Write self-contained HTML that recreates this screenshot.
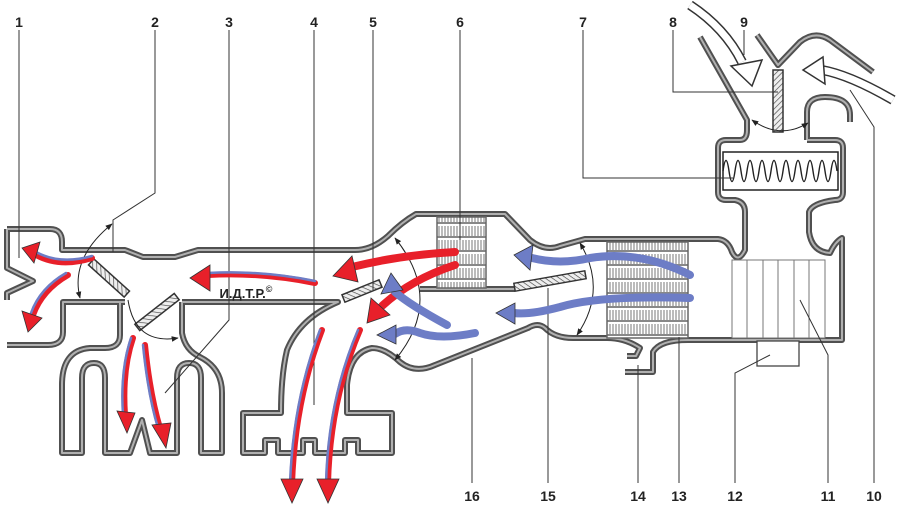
<!DOCTYPE html>
<html><head><meta charset="utf-8"><style>
html,body{margin:0;padding:0;background:#fff;}
svg{display:block;}
text{font-family:"Liberation Sans",sans-serif;font-size:14px;font-weight:bold;fill:#222;text-anchor:middle;}
</style></head><body>
<svg width="900" height="512" viewBox="0 0 900 512" xmlns="http://www.w3.org/2000/svg">
<defs>
<pattern id="hatch" width="4" height="4" patternUnits="userSpaceOnUse" patternTransform="rotate(45)">
<rect width="4" height="4" fill="#eee"/><line x1="0" y1="0" x2="0" y2="4" stroke="#444" stroke-width="1.3"/></pattern>
<pattern id="core" width="3" height="14" patternUnits="userSpaceOnUse">
<rect width="3" height="14" fill="#fff"/><line x1="1" y1="2" x2="1" y2="12" stroke="#777" stroke-width="1"/><rect x="0" y="12" width="3" height="2" fill="#888"/></pattern>
<marker id="ah" viewBox="0 0 10 10" refX="9" refY="5" markerWidth="7" markerHeight="7" orient="auto-start-reverse"><path d="M0,1 L10,5 L0,9 Z" fill="#222"/></marker>
<g id="walls" fill="none" stroke-linejoin="round">
<path d="M7,229 H50 Q62,229 62,242 V250 H125 L143,257 H175 L198,250 H355 Q372,250 388,236 Q402,222 416,214 H505 L530,240 Q545,252 560,246 L585,239 H718 Q728,240 732,252 Q738,264 745,250 V212 Q745,202 735,200 H726 Q718,200 718,192 V148 Q718,140 726,140 H740 Q747,140 747,130 V120 L700,37"/>
<path d="M807,140 V112 Q807,97 825,97 Q850,97 850,115 V122"/>
<path d="M807,140 H835 Q843,140 843,148 V192 Q843,200 835,200 Q812,203 809,212 V232 Q812,252 830,253 Q835,242 842,238 V340 H688 Q660,340 653,352 V372 H625"/>
<path d="M573,338 H607 Q625,338 640,348 L636,356 H627"/>
<path d="M573,338 Q555,338 545,328 Q538,322 528,328 L435,365 Q415,374 400,362 Q385,348 372,348 Q350,352 347,385 V413 H392 V453 H358 V440 H345 V453 H315 V440 H303 V453 H278 V440 H265 V453 H243 V413 H281 Q281,375 287,350 Q300,318 338,302 H182"/>
<path d="M7,345 H48 Q63,345 63,332 V302 H125"/>
<path d="M182,302 V333 Q185,350 200,357 Q222,368 222,393 V453 H201 V378 Q201,363 189,363 Q177,363 177,378 V453 H150 L142,420 L130,453 H105 V378 Q105,363 94,363 Q82,363 82,378 V453 H62 V385 Q62,350 90,348 H105 Q120,348 120,335 V302"/>
<path d="M7,229 V268 L33,281 L7,293 V300"/>
<path d="M420,289 H515"/>
<path d="M757,35 L778,65 L800,42 Q815,30 830,40 L873,72"/>
</g>
</defs>
<use href="#walls" stroke="#505050" stroke-width="6"/>
<use href="#walls" stroke="#b0b0b0" stroke-width="2"/>

<rect x="437" y="217" width="49" height="71" fill="url(#core)" stroke="#666" stroke-width="1.5"/>
<rect x="607" y="242" width="81" height="96" fill="url(#core)" stroke="#666" stroke-width="1.5"/>
<g stroke="#777" stroke-width="1" fill="#fff">
<rect x="732" y="260" width="93" height="78"/>
<line x1="747" y1="260" x2="747" y2="338"/><line x1="763" y1="260" x2="763" y2="338"/>
<line x1="778" y1="260" x2="778" y2="338"/><line x1="794" y1="260" x2="794" y2="338"/>
<line x1="809" y1="260" x2="809" y2="338"/>
</g>
<rect x="757" y="341" width="42" height="25" fill="#fff" stroke="#444" stroke-width="1.3"/>
<rect x="723" y="152" width="115" height="38" fill="#fff" stroke="#222" stroke-width="1.5"/>
<path d="M723,171 Q726,150 729,171 T735,171 T741,171 T747,171 T753,171 T759,171 T765,171 T771,171 T777,171 T783,171 T789,171 T795,171 T801,171 T807,171 T813,171 T819,171 T825,171 T831,171 T837,171" fill="none" stroke="#222" stroke-width="1.4"/>

<g fill="url(#hatch)" stroke="#333" stroke-width="1.5">
<rect x="-4" y="-24" width="8" height="48" transform="translate(109,278) rotate(-48)"/>
<rect x="-4" y="-25" width="8" height="50" transform="translate(157,312) rotate(52)"/>
<rect x="-4" y="-20" width="8" height="40" transform="translate(362,291) rotate(68)"/>
<rect x="-4" y="-36" width="8" height="72" transform="translate(550,281) rotate(80)"/>
<rect x="773" y="70" width="10" height="62"/>
</g>

<g fill="none" stroke="#222" stroke-width="1" marker-start="url(#ah)" marker-end="url(#ah)">
<path d="M80,298 Q70,258 112,224"/>
<path d="M395,238 Q445,300 395,360"/>
<path d="M580,243 Q608,290 577,335"/>
<path d="M752,120 Q780,140 808,123"/>
</g>
<path d="M128,300 Q135,345 178,338" fill="none" stroke="#222" stroke-width="1" marker-end="url(#ah)"/>

<g stroke="#333" stroke-width="1" fill="none">
<path d="M19,30 V258"/>
<path d="M155,30 V193 L113,220 V252"/>
<path d="M229,30 V320 L165,393"/>
<path d="M314,30 V405"/>
<path d="M373,30 V290"/>
<path d="M460,30 V240"/>
<path d="M583,30 V178 H733"/>
<path d="M673,30 V92 H778"/>
<path d="M744,30 V55"/>
<path d="M874,483 V127 L850,90"/>
<path d="M828,483 V355 L800,300"/>
<path d="M735,483 V373 L770,355"/>
<path d="M679,483 V337"/>
<path d="M638,483 V365"/>
<path d="M548,483 V288"/>
<path d="M472,483 V358"/>
</g>

<g fill="none" stroke-linecap="round">
<g stroke="#e8202a" stroke-width="6">
<path d="M92,258 Q60,268 36,255"/><path d="M68,275 Q42,290 33,315"/>
<path d="M315,283 Q260,272 208,275"/>
<path d="M133,338 Q122,370 125,415"/><path d="M145,345 Q150,395 160,428"/>
<path d="M322,330 Q295,400 292,484"/><path d="M360,330 Q330,400 328,484"/>
<path d="M455,252 Q400,255 352,267" stroke-width="8"/><path d="M455,265 Q410,280 382,306" stroke-width="8"/>
</g>
<g stroke="#6d7dc6" stroke-width="2.5">
<path d="M92,256 Q60,265 36,252"/><path d="M66,273 Q40,288 31,313"/>
<path d="M315,281 Q260,270 208,273"/>
<path d="M131,338 Q120,370 123,415"/><path d="M143,345 Q148,395 158,428"/>
<path d="M320,330 Q293,400 290,484"/><path d="M358,330 Q328,400 326,484"/>
</g>
<g stroke="#6d7dc6" stroke-width="8">
<path d="M447,325 Q410,305 395,292"/>
<path d="M475,333 Q440,340 420,333 Q405,327 395,334"/>
<path d="M690,275 Q640,250 590,258 Q560,265 532,258"/>
<path d="M690,298 Q600,295 560,307 Q530,315 514,313"/>
</g>
</g>
<g stroke="#333" stroke-width="0.8">
<g fill="#e8202a">
<polygon points="22,248 40,242 34,263"/><polygon points="28,332 22,311 42,318"/>
<polygon points="190,278 210,265 210,291"/>
<polygon points="127,433 117,411 135,413"/><polygon points="166,448 152,425 171,423"/>
<polygon points="292,503 281,479 303,479"/><polygon points="328,503 317,479 339,479"/>
<polygon points="333,276 352,256 358,282"/><polygon points="367,323 371,298 390,315"/>
</g>
<g fill="#6d7dc6">
<polygon points="391,273 381,294 403,290"/>
<polygon points="377,335 396,325 396,344"/>
<polygon points="514,255 533,245 530,270"/>
<polygon points="496,313 515,303 515,324"/>
</g>
</g>
<g fill="none" stroke-linejoin="round">
<path d="M690,5 Q725,28 742,62" stroke="#333" stroke-width="10"/>
<path d="M690,5 Q725,28 742,62" stroke="#fff" stroke-width="7"/>
<path d="M893,100 Q850,75 822,70" stroke="#333" stroke-width="10"/>
<path d="M893,100 Q850,75 822,70" stroke="#fff" stroke-width="7"/>
</g>
<polygon points="752,86 731,66 762,60" fill="#fff" stroke="#333" stroke-width="1.5"/>
<polygon points="803,70 823,57 825,84" fill="#fff" stroke="#333" stroke-width="1.5"/>

<text x="246" y="298" style="font-size:13px;">И.Д.Т.Р.<tspan dy="-6" font-size="9">©</tspan></text>

<text x="19" y="27">1</text><text x="155" y="27">2</text><text x="229" y="27">3</text>
<text x="314" y="27">4</text><text x="373" y="27">5</text><text x="460" y="27">6</text>
<text x="583" y="27">7</text><text x="673" y="27">8</text><text x="744" y="27">9</text>
<text x="472" y="501">16</text><text x="548" y="501">15</text><text x="638" y="501">14</text>
<text x="679" y="501">13</text><text x="735" y="501">12</text><text x="828" y="501">11</text>
<text x="874" y="501">10</text>
</svg>
</body></html>
